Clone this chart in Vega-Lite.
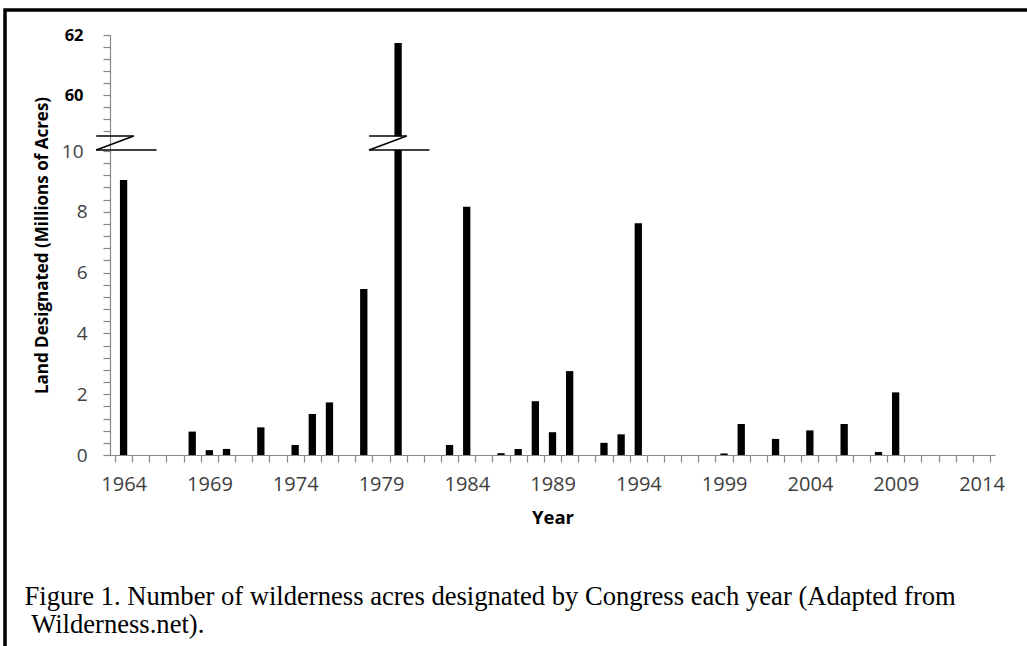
{
  "$schema": "https://vega.github.io/schema/vega-lite/v6.json",
  "autosize": "none",
  "width": 1031,
  "height": 639,
  "padding": {"left": 5, "top": 10, "right": -9, "bottom": -3},
  "background": "white",
  "config": {
    "view": {"stroke": "black", "strokeWidth": 3.5},
    "axis": {"grid": false, "labelFont": "Open Sans", "titleFont": "Open Sans", "domainColor": "#888888", "tickColor": "#888888", "domainWidth": 1.2, "tickWidth": 1.2}
  },
  "title": {
    "text": ["Figure 1. Number of wilderness acres designated by Congress each year (Adapted from", "\u200b\u2005Wilderness.net)."],
    "orient": "bottom",
    "anchor": "start",
    "frame": "group",
    "offset": -44,
    "baseline": "alphabetic",
    "dx": 19.5,
    "font": "Liberation Serif",
    "fontSize": 26.6,
    "fontWeight": "normal",
    "lineHeight": 28,
    "color": "black"
  },
  "datasets": {
    "acres": [
      {"year": 1964, "acres": 9.05},
      {"year": 1968, "acres": 0.77},
      {"year": 1969, "acres": 0.16},
      {"year": 1970, "acres": 0.2},
      {"year": 1972, "acres": 0.91},
      {"year": 1974, "acres": 0.33},
      {"year": 1975, "acres": 1.35},
      {"year": 1976, "acres": 1.73},
      {"year": 1978, "acres": 5.46},
      {"year": 1980, "acres": 61.73},
      {"year": 1983, "acres": 0.33},
      {"year": 1984, "acres": 8.17},
      {"year": 1986, "acres": 0.06},
      {"year": 1987, "acres": 0.2},
      {"year": 1988, "acres": 1.77},
      {"year": 1989, "acres": 0.75},
      {"year": 1990, "acres": 2.76},
      {"year": 1992, "acres": 0.4},
      {"year": 1993, "acres": 0.68},
      {"year": 1994, "acres": 7.62},
      {"year": 1999, "acres": 0.05},
      {"year": 2000, "acres": 1.02},
      {"year": 2002, "acres": 0.53},
      {"year": 2004, "acres": 0.81},
      {"year": 2006, "acres": 1.02},
      {"year": 2008, "acres": 0.1},
      {"year": 2009, "acres": 2.06}
    ],
    "mask": [
      {"year": 1963.3, "year2": 1963.7, "acres": 13.0, "acres2": 46.0},
      {"year": 1979.6, "year2": 1980.4, "acres": 13.0, "acres2": 46.0}
    ],
    "breaks": [
      {"year": 1962.405, "year2": 1964.595, "acres": 46.6, "acres2": 46.6},
      {"year": 1964.595, "year2": 1962.405, "acres": 46.6, "acres2": 12.44},
      {"year": 1962.405, "year2": 1965.92, "acres": 12.44, "acres2": 12.44},
      {"year": 1978.31, "year2": 1980.5, "acres": 46.6, "acres2": 46.6},
      {"year": 1980.5, "year2": 1978.31, "acres": 46.6, "acres2": 12.44},
      {"year": 1978.31, "year2": 1981.83, "acres": 12.44, "acres2": 12.44}
    ]
  },
  "layer": [
    {
      "data": {"name": "acres"},
      "mark": {"type": "bar", "color": "black", "width": 7.3},
      "encoding": {
        "x": {
          "field": "year", "type": "quantitative",
          "scale": {"domain": [1963.5, 2014.5], "range": [105, 990], "nice": false, "zero": false},
          "axis": {
            "orient": "bottom", "offset": -194, "title": "Year",
            "titleFontSize": 18.5, "titleFontWeight": "bold", "titleColor": "black",
            "titleBaseline": "alphabetic", "titleY": 68,
            "tickCount": 500,
            "values": [1963.5,1964.5,1965.5,1966.5,1967.5,1968.5,1969.5,1970.5,1971.5,1972.5,1973.5,1974.5,1975.5,1976.5,1977.5,1978.5,1979.5,1980.5,1981.5,1982.5,1983.5,1984.5,1985.5,1986.5,1987.5,1988.5,1989.5,1990.5,1991.5,1992.5,1993.5,1994.5,1995.5,1996.5,1997.5,1998.5,1999.5,2000.5,2001.5,2002.5,2003.5,2004.5,2005.5,2006.5,2007.5,2008.5,2009.5,2010.5,2011.5,2012.5,2013.5,2014.5],
            "labelExpr": "(datum.value + 0.5 - 1964) % 5 == 0 ? '' + (datum.value + 0.5) : ''",
            "labelOffset": 8.68, "labelAlign": "center", "labelFlush": false, "labelOverlap": false, "labelBound": false,
            "labelFontSize": 20, "labelColor": "#404040", "labelPadding": 12,
            "tickSize": 7
          }
        },
        "y": {
          "field": "acres", "type": "quantitative",
          "scale": {"domain": [0, 10, 58.8, 62], "range": [445, 141, 121, 25], "nice": false, "zero": false},
          "axis": {
            "orient": "left", "offset": -105,
            "title": "Land Designated (Millions of Acres)",
            "titleFontSize": 17, "titleFontWeight": "bold", "titleColor": "black",
            "titleBaseline": "alphabetic", "titleAngle": 270, "titleAlign": "center", "titleX": -63, "titleY": 235,
            "tickCount": 500,
            "values": [0,0.4,0.8,1.2,1.6,2,2.4,2.8,3.2,3.6,4,4.4,4.8,5.2,5.6,6,6.4,6.8,7.2,7.6,8,8.4,8.8,9.2,9.6,10,58.8,59.2,59.6,60,60.4,60.8,61.2,61.6,62],
            "labelExpr": "indexof([0,2,4,6,8,10,60,62], datum.value) >= 0 ? '' + datum.value : ''",
            "labelOverlap": false, "labelFlush": false, "labelBound": false,
            "labelFontSize": {"condition": {"test": "datum.value > 50", "value": 16.5}, "value": 19},
            "labelFontWeight": {"condition": {"test": "datum.value > 50", "value": "bold"}, "value": "normal"},
            "labelColor": {"condition": {"test": "datum.value > 50", "value": "black"}, "value": "#404040"},
            "labelPadding": {"condition": {"test": "datum.value > 9", "value": 20}, "value": 16},
            "tickSize": 7
          }
        }
      }
    },
    {
      "data": {"name": "mask"},
      "mark": {"type": "rect", "color": "white"},
      "encoding": {
        "x": {"field": "year", "type": "quantitative", "title": "Year"},
        "x2": {"field": "year2"},
        "y": {"field": "acres", "type": "quantitative", "title": "Land Designated (Millions of Acres)"},
        "y2": {"field": "acres2"}
      }
    },
    {
      "data": {"name": "breaks"},
      "mark": {"type": "rule", "color": "black", "strokeWidth": 1.5},
      "encoding": {
        "x": {"field": "year", "type": "quantitative", "title": "Year"},
        "x2": {"field": "year2"},
        "y": {"field": "acres", "type": "quantitative", "title": "Land Designated (Millions of Acres)"},
        "y2": {"field": "acres2"}
      }
    }
  ]
}
